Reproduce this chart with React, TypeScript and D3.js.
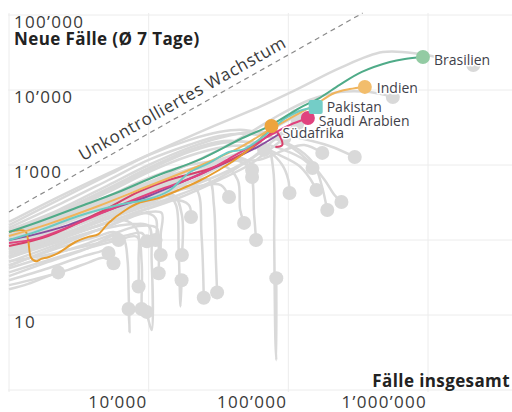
import React from "react";
import * as d3 from "d3";

type P = [number, number];

// x: total cases, y: new cases (7-day avg)
const xGridValues = [1000, 10000, 100000, 1000000];
const xTickValues = [10000, 100000, 1000000];
const yGridValues = [1, 10, 100, 1000, 10000, 100000];
const yTickValues = [10, 1000, 10000, 100000];

const guideLine: P[] = [[1000, 236], [340000, 106000]];

// highlighted countries
const brasilien: P[] = [[1000,128],[1620,174],[3140,275],[6080,437],[11800,736],[22900,1170],[47000,2290],[72900,3310],[120000,5750],[167000,7820],[233000,11700],[336000,17400],[533000,23600],[683000,25900],[920000,27500]];
const indien: P[] = [[1000,113],[1910,163],[4370,284],[10000,525],[22900,970],[44400,1690],[72900,2930],[120000,4930],[154000,6310],[214000,9120],[275000,10300],[353000,11000]];
const pakistan: P[] = [[1000,100],[1620,132],[3140,209],[6080,293],[10000,352],[13900,450],[19400,782],[27000,1060],[37600,1490],[48200,1630],[67100,2440],[93500,4100],[120000,5250],[157000,5930]];
const saudi: P[] = [[1000,91],[1620,106],[3140,169],[6080,284],[11800,464],[22900,736],[44400,1450],[72900,2440],[102000,3410],[138000,4240]];
const suedafrika: P[] = [[1000,128],[1303,132],[1370,100],[1440,58],[1565,52],[1700,56],[1910,59],[2250,67],[2985,94],[3700,110],[4370,120],[5160,169],[6840,251],[8470,311],[11800,363],[16400,464],[22900,612],[31900,858],[44400,1280],[56900,1850],[67100,2510],[75700,3310]];
const purple: P[] = [[1000,100],[1490,117],[2660,158],[5160,251],[10000,386],[19400,650],[37600,1130],[61800,1790],[86100,2590]];
const crimson: P[] = [[1000,83],[1910,113],[4370,229],[8470,437],[13900,631],[27000,885],[44400,1320],[64000,2090],[80800,2840],[87500,2360],[90500,1850],[80800,1740]];

// other countries (grey)
const usa: P[] = [[1000,174],[2250,374],[5160,782],[11800,1580],[27000,3110],[61800,5930],[120000,10600],[233000,19600],[474000,32100],[876000,30200],[1440000,25100],[2110000,21500]];
const russia: P[] = [[1000,106],[2250,174],[5160,341],[11800,671],[27000,1360],[52400,2670],[86100,4640],[142000,7360],[233000,9400],[383000,9400],[560000,8070]];
const uk: P[] = [[1000,136],[2250,251],[5160,541],[10000,1000],[19400,1690],[31900,2290],[52400,2750],[79200,2670],[120000,2290],[197000,1790],[299000,1280]];
const spain: P[] = [[1000,158],[2250,341],[5160,736],[10000,1360],[19400,2150],[31900,2750],[48200,2930],[72900,2440],[102000,1790],[142000,1100],[182000,631],[214000,398],[240000,321]];
const italy: P[] = [[1000,145],[2250,293],[5160,631],[10000,1170],[19400,1850],[31900,2440],[52400,2590],[86100,2150],[120000,1580],[154000,1000],[173000,541],[190000,251]];
const germany: P[] = [[1000,128],[2250,236],[5160,493],[10000,912],[19400,1580],[34600,2090],[56900,1910],[86100,1360],[120000,970],[142000,671],[159000,464]];
const france: P[] = [[1000,117],[2250,215],[5160,437],[10000,807],[19400,1320],[34600,1740],[52400,1790],[72900,1490],[90500,1000],[100000,631],[102000,424]];
const turkey: P[] = [[1000,110],[2250,222],[5160,464],[10000,858],[19400,1490],[37600,2030],[61800,1960],[93500,1580],[130000,1170],[149000,912]];
const iran: P[] = [[1000,100],[2250,196],[5160,386],[10000,671],[19400,1000],[37600,1170],[61800,1170],[93500,1580],[130000,1850],[175000,1450]];
const chile: P[] = [[1000,86],[2660,145],[7180,284],[16400,509],[31900,940],[52400,1740],[79200,3110],[114000,4500]];
const peru: P[] = [[1000,78],[2660,128],[7180,236],[16400,398],[31900,671],[52400,1170],[79200,2150],[116000,3520]];
const mexico: P[] = [[1000,74],[2660,117],[7180,215],[16400,363],[31900,631],[52400,1000],[72900,1580],[93500,2290]];
const qatar: P[] = [[1000,94],[2660,154],[7180,293],[16400,464],[31900,736],[52400,1170],[67100,1580]];
const d1: P[] = [[1000,46],[1620,63],[2660,86],[4370,113],[5600,128],[6610,106],[7060,54],[7180,22],[7300,5.9],[7180,12]];
const d2: P[] = [[1000,37],[1910,54],[3700,78],[6080,100],[8270,110],[8900,51],[8900,16],[8900,12]];
const d3s: P[] = [[1000,58],[2250,94],[4370,136],[7800,163],[10000,154],[10500,54],[10500,6.3],[9670,11]];
const d4: P[] = [[1000,69],[2250,106],[4370,154],[6610,185],[8270,136],[8470,54],[8470,24]];
const d5: P[] = [[1000,29],[1910,42],[3140,58],[4370,69],[4990,74],[5160,67]];
const d6: P[] = [[1000,33],[1910,51],[3700,78],[5600,113],[6080,100]];
const d7: P[] = [[1000,51],[2250,88],[5160,154],[9200,229],[11200,196],[11200,100]];
const d8: P[] = [[1000,61],[2250,106],[5160,196],[10000,302],[13900,386],[15700,293],[16400,74],[16900,13],[17200,29]];
const d9: P[] = [[1000,65],[2250,113],[5160,209],[10000,321],[15100,398],[17300,215],[17300,63]];
const d10: P[] = [[1000,74],[2250,128],[5160,236],[10000,363],[17800,525],[22100,464],[23900,117],[24800,17]];
const d11: P[] = [[1000,81],[2250,140],[5160,259],[10000,410],[19400,593],[27000,631],[29300,293],[30300,54],[30900,20]];
const d12: P[] = [[1000,58],[2250,100],[5160,174],[10000,267],[15100,341],[19400,293],[20100,203]];
const d13: P[] = [[1000,45],[2250,83],[5160,154],[10000,236],[12400,229],[12200,117],[12200,63]];
const d14: P[] = [[1000,106],[2250,179],[5160,321],[11800,558],[22900,807],[34600,970],[43400,631],[45200,251],[48200,169]];
const d15: P[] = [[1000,113],[2250,191],[5160,352],[11800,612],[24800,940],[40800,1170],[52400,912],[56900,215],[58700,100]];
const d16: P[] = [[1000,97],[2250,163],[5160,302],[11800,525],[27000,912],[44400,1240],[52400,1100],[55000,858]];
const d17: P[] = [[1000,88],[2250,154],[5160,284],[11800,493],[27000,832],[48200,1170],[55000,692]];
const d18: P[] = [[1000,120],[2250,203],[5160,374],[11800,650],[27000,1060],[52400,1580],[70400,1740],[78000,858],[79200,100],[80800,4.6],[82000,2.5],[82000,31]];
const d19: P[] = [[1000,42],[1910,61],[3700,91],[6080,128],[8470,154],[11400,145],[11800,86],[11800,36]];
const d20: P[] = [[1000,74],[2250,124],[5160,229],[11800,386],[22900,525],[32900,541],[37600,374]];
const d21: P[] = [[1000,22],[1370,26],[1910,33],[2250,37]];
const d22: P[] = [[1000,25],[1620,31],[2660,40],[3700,50],[4740,58],[5600,49]];
const d23: P[] = [[1000,52],[1620,60],[2660,74],[4020,88],[5600,104],[7180,117],[8900,124],[9700,96]];

const greySeries: P[][] = [usa, russia, uk, spain, italy, germany, france, turkey, iran, chile, peru, mexico, qatar,
  d1, d2, d3s, d4, d5, d6, d7, d8, d9, d10, d11, d12, d13, d14, d15, d16, d17, d18, d19, d20, d21, d22, d23];

const highlightNames = ["Brasilien", "Indien", "Pakistan", "Saudi Arabien", "Südafrika", "", ""];
const highlightData: P[][] = [brasilien, indien, pakistan, saudi, suedafrika, purple, crimson];
const highlightLine = ["#4fab88", "#f0b45c", "#6ccac3", "#e0437e", "#e79c2e", "#8a4c9e", "#d8406a"];
const highlightDot = ["#93cba3", "#f2bd6c", "#74cdc7", "#e0437e", "#eda43c", "", ""];
const highlightMarker = ["circle", "circle", "square", "circle", "circle", "none", "none"];

const W = 512, H = 412;
const FONT = "'Open Sans', 'Noto Sans', sans-serif";

const fmt = (v: number) => d3.format(",")(v).replace(/,/g, "’");

export default function App() {
  const x = d3.scaleLog().domain([1000, 1000000]).range([9, 428]);
  const y = d3.scaleLog().domain([1, 100000]).range([390, 15]);
  const line = d3.line<P>().x(d => x(d[0])).y(d => y(d[1])).curve(d3.curveCatmullRom.alpha(0.5));

  const g0 = guideLine[0], g1 = guideLine[1];
  const gx0 = x(g0[0]), gy0 = y(g0[1]), gx1 = x(g1[0]), gy1 = y(g1[1]);
  const angle = Math.atan2(gy1 - gy0, gx1 - gx0) * 180 / Math.PI;
  const t = 0.51;
  const lx = gx0 + (gx1 - gx0) * t, ly = gy0 + (gy1 - gy0) * t;

  const order = [5, 6, 4, 3, 1, 2, 0];

  return (
    <svg width={W} height={H} style={{ position: "absolute", left: 0, top: 0, background: "#fff" }} fontFamily={FONT}>
      <defs>
        <clipPath id="plot"><rect x={8} y={8} width={504} height={384} /></clipPath>
      </defs>
      {yGridValues.map(v => (
        <line key={"gy" + v} x1={8} x2={W} y1={y(v)} y2={y(v)} stroke="#ececec" strokeWidth={1} />
      ))}
      {xGridValues.map(v => (
        <line key={"gx" + v} x1={x(v)} x2={x(v)} y1={13} y2={392} stroke="#ececec" strokeWidth={1} />
      ))}
      {yTickValues.map(v => (
        <text key={"ty" + v} x={14} y={y(v) + 13} fontSize={17} fill="#3a3a3a" letterSpacing={1.3}>{fmt(v)}</text>
      ))}
      <text x={14} y={45} fontSize={17} fontWeight={700} fill="#222" letterSpacing={0.4}>Neue Fälle (Ø 7 Tage)</text>
      {xTickValues.map(v => (
        <text key={"tx" + v} x={x(v) - 1} y={408} fontSize={17} fill="#3a3a3a" textAnchor="end" letterSpacing={1.3}>{fmt(v)}</text>
      ))}
      <text x={510} y={387} fontSize={17} fontWeight={700} fill="#222" textAnchor="end" letterSpacing={0.4}>Fälle insgesamt</text>

      <g clipPath="url(#plot)">
        {greySeries.map((s, i) => (
          <path key={"g" + i} d={line(s) || ""} fill="none" stroke="#d9d9d9" strokeWidth={2.5} strokeLinejoin="round" />
        ))}
        {greySeries.map((s, i) => {
          const e = s[s.length - 1];
          return <circle key={"gc" + i} cx={x(e[0])} cy={y(e[1])} r={7} fill="#d9d9d9" />;
        })}
        <line x1={gx0} y1={gy0} x2={gx1} y2={gy1} stroke="#8a8a8a" strokeWidth={1.2} strokeDasharray="5,4" />
        {order.map(i => (
          <path key={"h" + i} d={line(highlightData[i]) || ""} fill="none" stroke={highlightLine[i]} strokeWidth={2} strokeLinejoin="round" />
        ))}
        {order.map(i => {
          const s = highlightData[i];
          const e = s[s.length - 1];
          const cx = x(e[0]), cy = y(e[1]);
          if (highlightMarker[i] === "circle") return <circle key={"hc" + i} cx={cx} cy={cy} r={7} fill={highlightDot[i]} />;
          if (highlightMarker[i] === "square") return <rect key={"hc" + i} x={cx - 7} y={cy - 7} width={14} height={14} rx={2} fill={highlightDot[i]} />;
          return null;
        })}
      </g>
      <text x={lx} y={ly} transform={`rotate(${angle} ${lx} ${ly}) translate(0 -8)`} fontSize={17} fill="#3a3a3a" textAnchor="middle" letterSpacing={0.7}>Unkontrolliertes Wachstum</text>
      {highlightNames.map((n, i) => {
        if (!n) return null;
        const s = highlightData[i];
        const e = s[s.length - 1];
        const offs: [number, number][] = [[11, 8], [12, 6], [11, 5], [11, 8], [11, 12]];
        return (
          <text key={"l" + i} x={x(e[0]) + offs[i][0]} y={y(e[1]) + offs[i][1]} fontSize={14} fill="#3f3f4a"
            stroke="#fff" strokeWidth={3} paintOrder="stroke" strokeLinejoin="round">{n}</text>
        );
      })}
    </svg>
  );
}
